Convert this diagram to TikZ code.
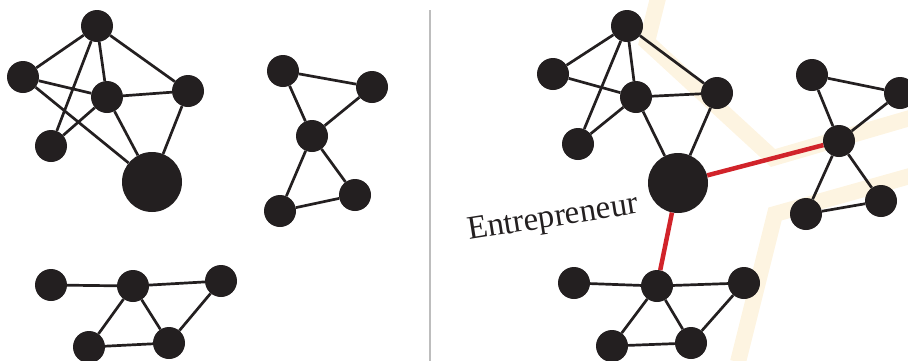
\documentclass[tikz,border=0pt]{standalone}
\usepackage{fontspec}
\setmainfont{Liberation Serif}
\usetikzlibrary{positioning}

\definecolor{ink}{HTML}{231F20}
\definecolor{linkred}{HTML}{D1232A}
\definecolor{cream}{HTML}{FDF4E1}
\definecolor{divider}{HTML}{BDBDBD}

\begin{document}
\begin{tikzpicture}[x=1pt, y=-1pt,
  person/.style={circle, fill=ink, inner sep=0pt, minimum size=32pt},
  entre/.style={person, minimum size=60pt},
  tie/.style={ink, line width=2.7pt},
  bridge/.style={linkred, line width=4.5pt},
  trail/.style={cream, line width=16pt, line join=miter}
  ]
  \useasboundingbox (0,0) rectangle (908,360);

  % pale trails behind the right network
  \draw[trail] (658,-2) -- (647,42) -- (773,158) -- (910,118);
  \draw[trail] (738,362) -- (775,214) -- (910,176);

  \draw[divider, line width=2pt] (430,10) -- (430,362);

  % left: first cluster
  \node[person] (A1) at (97,26) {};
  \node[person] (A2) at (23,77) {};
  \node[person] (A3) at (107,97) {};
  \node[person] (A4) at (188,91) {};
  \node[person] (A5) at (51,146) {};
  \node[entre] (A6) at (152,182) {};

  \draw[tie] (A1) -- (A2);
  \draw[tie] (A1) -- (A3);
  \draw[tie] (A1) -- (A4);
  \draw[tie] (A1) -- (A5);
  \draw[tie] (A2) -- (A3);
  \draw[tie] (A2) -- (A6);
  \draw[tie] (A3) -- (A4);
  \draw[tie] (A3) -- (A5);
  \draw[tie] (A3) -- (A6);
  \draw[tie] (A4) -- (A6);

  % left: second cluster
  \node[person] (B1) at (283,71) {};
  \node[person] (B2) at (372,87) {};
  \node[person] (B3) at (312,136) {};
  \node[person] (B4) at (280,211) {};
  \node[person] (B5) at (355,195) {};

  \draw[tie] (B1) -- (B2);
  \draw[tie] (B1) -- (B3);
  \draw[tie] (B2) -- (B3);
  \draw[tie] (B3) -- (B4);
  \draw[tie] (B3) -- (B5);
  \draw[tie] (B4) -- (B5);

  % left: third cluster
  \node[person] (C1) at (51,285) {};
  \node[person] (C2) at (133,286) {};
  \node[person] (C3) at (221,281) {};
  \node[person] (C4) at (89,347) {};
  \node[person] (C5) at (169,343) {};

  \draw[tie] (C1) -- (C2);
  \draw[tie] (C2) -- (C3);
  \draw[tie] (C2) -- (C4);
  \draw[tie] (C2) -- (C5);
  \draw[tie] (C4) -- (C5);
  \draw[tie] (C3) -- (C5);

  % right: first cluster with the entrepreneur
  \node[person] (D1) at (627,26) {};
  \node[person] (D2) at (553,74) {};
  \node[person] (D3) at (636,97) {};
  \node[person] (D4) at (717,93) {};
  \node[person] (D5) at (578,144) {};
  \node[entre] (D6) at (678,183) {};

  \draw[tie] (D1) -- (D2);
  \draw[tie] (D1) -- (D3);
  \draw[tie] (D1) -- (D4);
  \draw[tie] (D1) -- (D5);
  \draw[tie] (D2) -- (D3);
  \draw[tie] (D3) -- (D4);
  \draw[tie] (D3) -- (D5);
  \draw[tie] (D3) -- (D6);
  \draw[tie] (D4) -- (D6);

  % right: second cluster
  \node[person] (E1) at (812,75) {};
  \node[person] (E2) at (900,93) {};
  \node[person] (E3) at (839,141) {};
  \node[person] (E4) at (806,214) {};
  \node[person] (E5) at (881,201) {};

  \draw[tie] (E1) -- (E2);
  \draw[tie] (E1) -- (E3);
  \draw[tie] (E2) -- (E3);
  \draw[tie] (E3) -- (E4);
  \draw[tie] (E3) -- (E5);
  \draw[tie] (E4) -- (E5);

  % right: third cluster
  \node[person] (F1) at (574,283) {};
  \node[person] (F2) at (657,286) {};
  \node[person] (F3) at (744,283) {};
  \node[person] (F4) at (612,346) {};
  \node[person] (F5) at (691,343) {};

  \draw[tie] (F1) -- (F2);
  \draw[tie] (F2) -- (F3);
  \draw[tie] (F2) -- (F4);
  \draw[tie] (F2) -- (F5);
  \draw[tie] (F4) -- (F5);
  \draw[tie] (F3) -- (F5);

  % bridging ties
  \draw[bridge] (D6) -- (F2);
  \draw[bridge] (D6) -- (E3);

  \node[anchor=base west, rotate=9, text=ink, inner sep=0pt,
    font=\fontsize{33}{33}\selectfont] (entrepreneur) at (469,240) {Entrepreneur};
\end{tikzpicture}
\end{document}
